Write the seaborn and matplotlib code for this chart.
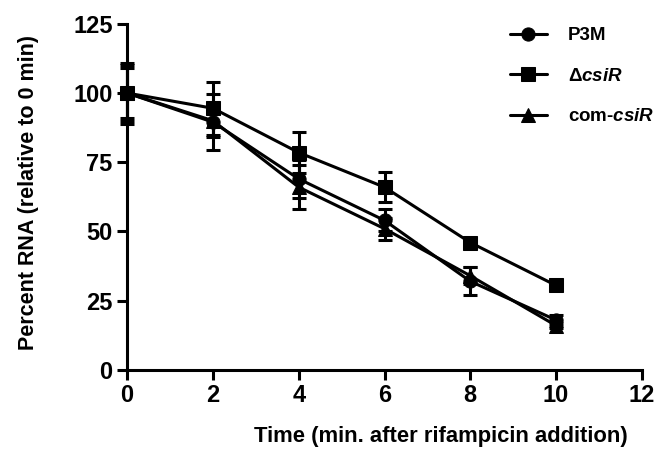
import numpy as np
import pandas as pd
import matplotlib
matplotlib.use("Agg")
import matplotlib.pyplot as plt
import seaborn as sns

# time points (min after rifampicin)
time = [0, 2, 4, 6, 8, 10]

p3m = [100, 89.5, 69, 54, 32, 18]
p3m_err = [10, 10, 7, 4, 5, 2]

dcsir = [100, 94.5, 78.5, 66, 46, 30.5]
dcsir_err = [11, 9.5, 7.5, 5.5, 1.5, 1]

com = [100, 90, 66, 51, 34, 16]
com_err = [9, 6, 8, 4, 3, 1]

labels = ["P3M", "\u0394$\\mathit{csiR}$", "com-$\\mathit{csiR}$"]

sns.set_theme(style="ticks")
plt.rcParams['font.family'] = ['Liberation Sans', 'DejaVu Sans']
plt.rcParams['font.weight'] = 'bold'
plt.rcParams['text.color'] = 'black'
plt.rcParams['axes.edgecolor'] = 'black'
plt.rcParams['axes.labelcolor'] = 'black'
plt.rcParams['xtick.color'] = 'black'
plt.rcParams['ytick.color'] = 'black'
plt.rcParams['mathtext.fontset'] = 'custom'
plt.rcParams['mathtext.it'] = 'Liberation Sans:italic:bold'
plt.rcParams['mathtext.rm'] = 'Liberation Sans:bold'

df = pd.DataFrame({
    "time": time * 3,
    "rna": p3m + dcsir + com,
    "err": p3m_err + dcsir_err + com_err,
    "strain": [labels[0]] * 6 + [labels[1]] * 6 + [labels[2]] * 6,
})

fig = plt.figure(figsize=(6.59, 4.5), dpi=100)
ax = fig.add_axes([0.193, 0.178, 0.781, 0.769])

markers = {labels[0]: "o", labels[1]: "s", labels[2]: "^"}
sns.lineplot(data=df, x="time", y="rna", hue="strain", style="strain",
             markers=markers, dashes=False, palette=["black"] * 3,
             linewidth=2.2, markersize=9.5, markeredgecolor="black", ax=ax,
             clip_on=False)

for s in labels:
    d = df[df.strain == s]
    ax.errorbar(d.time, d.rna, yerr=d.err, fmt="none", ecolor="black",
                elinewidth=2.2, capsize=5, capthick=2.2, clip_on=False)

ax.set_xlim(0, 12)
ax.set_ylim(0, 125)
ax.set_xticks(range(0, 13, 2))
ax.set_yticks(range(0, 126, 25))
ax.tick_params(labelsize=17, width=2.2, length=7)
for lab in ax.get_xticklabels() + ax.get_yticklabels():
    lab.set_fontweight("bold")
for sp in ["left", "bottom"]:
    ax.spines[sp].set_linewidth(2.2)
sns.despine(ax=ax)

ax.set_xlabel("Time (min. after rifampicin addition)", fontsize=15.8, fontweight="bold")
ax.xaxis.set_label_coords(0.61, -0.162)
ax.set_ylabel("Percent RNA (relative to 0 min)", fontsize=15.5, fontweight="bold")
ax.yaxis.set_label_coords(-0.172, 0.514)

leg = ax.legend(frameon=False, loc="upper left", bbox_to_anchor=(510 / 659, 0.94),
                bbox_transform=fig.transFigure, borderpad=0, borderaxespad=0,
                fontsize=13.5, handlelength=1.97, handletextpad=1.1, labelspacing=1.25)
for t in leg.get_texts():
    t.set_fontweight("bold")

fig.savefig("out.png", dpi=100)
